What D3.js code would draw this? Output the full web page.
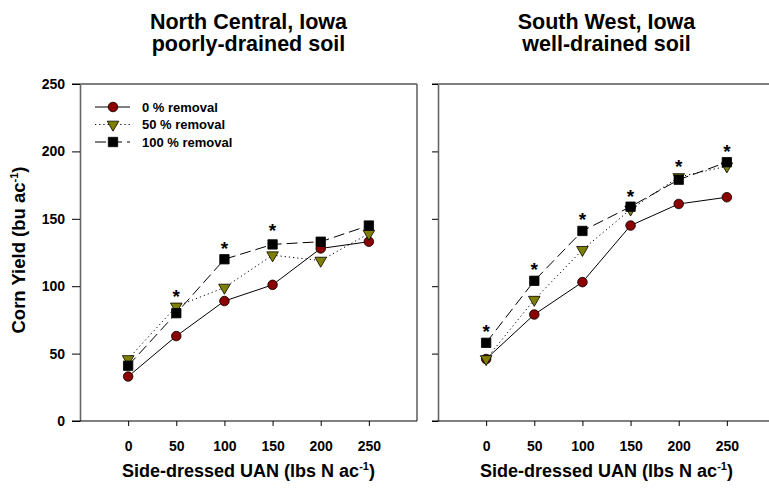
<!DOCTYPE html>
<html>
<head>
<meta charset="utf-8">
<script src="https://cdn.jsdelivr.net/npm/d3@7"></script>
<style>
  body { margin: 0; background: #fff; }
  svg { display: block; font-family: "Liberation Sans", Arial, sans-serif; font-weight: bold; }
</style>
</head>
<body>
<div id="chart"></div>
<script>
// UAN side-dress rates (lbs N / ac)
const nRates = [0, 50, 100, 150, 200, 250];
const seriesNames = ["0 % removal", "50 % removal", "100 % removal"];
const yTicks = [0, 50, 100, 150, 200, 250];

// North Central, Iowa - poorly-drained soil
const ncYield0 = [33, 63, 89, 101, 128, 133];
const ncYield50 = [46, 85, 99, 123, 119, 139];
const ncYield100 = [41, 80, 120, 131, 133, 145];
const ncStarRates = [50, 100, 150];
const ncStarLevels = [96, 131, 145];

// South West, Iowa - well-drained soil
const swYield0 = [46, 79, 103, 145, 161, 166];
const swYield50 = [46, 90, 127, 157, 181, 189];
const swYield100 = [58, 104, 141, 159, 179, 192];
const swStarRates = [0, 50, 100, 150, 200, 250];
const swStarLevels = [70, 116, 153, 170, 192, 203];

const W = 769, H = 491;
const svg = d3.select("#chart").append("svg")
    .attr("width", W)
    .attr("height", H);

const y = d3.scaleLinear().domain([0, 250]).range([421, 84]);

// one style per series
const styles = [
    {dash: null, symbol: d3.symbolCircle, size: 72, fill: "#8b0000", rot: 0},
    {dash: "1.2 3", symbol: d3.symbolTriangle, size: 58, fill: "#808000", rot: 180},
    {dash: "11 5", symbol: d3.symbolSquare, size: 88, fill: "#000", rot: 0}
];

const panels = [
    {
        left: 80, right: 417,
        title: ["North Central, Iowa", "poorly-drained soil"],
        series: [ncYield0, ncYield50, ncYield100],
        starRates: ncStarRates, starLevels: ncStarLevels,
        tickLabels: true, tickLen: 8, legend: true
    },
    {
        left: 438, right: 775,
        title: ["South West, Iowa", "well-drained soil"],
        series: [swYield0, swYield50, swYield100],
        starRates: swStarRates, starLevels: swStarLevels,
        tickLabels: false, tickLen: 6, legend: false
    }
];

panels.forEach(p => {
    const x = d3.scaleLinear().domain([-50, 300]).range([p.left, p.right]);
    const g = svg.append("g");
    const cx = (p.left + p.right) / 2;

    // title
    p.title.forEach((t, i) => {
        g.append("text")
            .attr("x", cx)
            .attr("y", 29 + i * 22)
            .attr("text-anchor", "middle")
            .style("font-size", "21.5px")
            .text(t);
    });

    // frame: top line
    g.append("line")
        .attr("x1", p.left - p.tickLen).attr("x2", p.right)
        .attr("y1", y(250)).attr("y2", y(250))
        .attr("stroke", "#000");

    // left axis
    const yAxis = g.append("g")
        .attr("transform", `translate(${p.left},0)`)
        .call(d3.axisLeft(y).tickValues(yTicks)
            .tickSize(p.tickLen).tickSizeOuter(0)
            .tickFormat(p.tickLabels ? d3.format("d") : ""));
    yAxis.select(".domain").attr("stroke", "#666").attr("stroke-width", 1.6);
    yAxis.selectAll(".tick line").attr("stroke", "#000");
    yAxis.selectAll(".tick text")
        .attr("x", -15)
        .style("font-size", "14px")
        .style("font-family", "'Liberation Sans', Arial, sans-serif")
        .style("font-weight", "bold")
        .attr("fill", "#000");

    // right edge
    g.append("line")
        .attr("x1", p.right).attr("x2", p.right)
        .attr("y1", y(250)).attr("y2", y(0))
        .attr("stroke", "#666").attr("stroke-width", 1.6);

    // bottom axis
    const xAxis = g.append("g")
        .attr("transform", `translate(0,${y(0)})`)
        .call(d3.axisBottom(x).tickValues(nRates).tickSize(5).tickSizeOuter(0));
    xAxis.select(".domain").remove();
    xAxis.append("line")
        .attr("x1", p.left - p.tickLen).attr("x2", p.right)
        .attr("stroke", "#000");
    xAxis.selectAll(".tick text")
        .attr("y", 20)
        .style("font-size", "14px")
        .style("font-family", "'Liberation Sans', Arial, sans-serif")
        .style("font-weight", "bold")
        .attr("fill", "#000");

    // x label
    const xl = g.append("text")
        .attr("x", cx)
        .attr("y", 477)
        .attr("text-anchor", "middle")
        .style("font-size", "18px")
        .text("Side-dressed UAN (lbs N ac");
    xl.append("tspan").attr("dy", -7).style("font-size", "11px").text("-1");
    xl.append("tspan").attr("dy", 7).text(")");

    // series lines then markers, in order
    p.series.forEach((vals, si) => {
        const s = styles[si];
        const pts = nRates.map((r, i) => [r, vals[i]]);
        g.append("path")
            .datum(pts)
            .attr("fill", "none")
            .attr("stroke", "#000")
            .attr("stroke-width", 1)
            .attr("stroke-dasharray", s.dash)
            .attr("d", d3.line().x(d => x(d[0])).y(d => y(d[1])));
        g.selectAll(null)
            .data(pts)
            .join("path")
            .attr("transform", d => `translate(${x(d[0])},${y(d[1])}) rotate(${s.rot})`)
            .attr("d", d3.symbol(s.symbol, s.size))
            .attr("fill", s.fill)
            .attr("stroke", "#000")
            .attr("stroke-width", 0.8);
    });

    // significance asterisks
    g.selectAll(null)
        .data(p.starRates.map((r, i) => [r, p.starLevels[i]]))
        .join("text")
        .attr("x", d => x(d[0]))
        .attr("y", d => y(d[1]) + 11)
        .attr("text-anchor", "middle")
        .style("font-size", "19px")
        .text("*");

    // legend
    if (p.legend) {
        const lg = g.append("g");
        seriesNames.forEach((name, i) => {
            const s = styles[i];
            const ly = 107 + i * 17.5;
            lg.append("line")
                .attr("x1", 95).attr("x2", 130)
                .attr("y1", ly).attr("y2", ly)
                .attr("stroke", "#000")
                .attr("stroke-dasharray", s.dash);
            lg.append("path")
                .attr("transform", `translate(113,${ly}) rotate(${s.rot})`)
                .attr("d", d3.symbol(s.symbol, s.size))
                .attr("fill", s.fill)
                .attr("stroke", "#000")
                .attr("stroke-width", 0.8);
            lg.append("text")
                .attr("x", 142)
                .attr("y", ly + 4.5)
                .style("font-size", "13px")
                .text(name);
        });
    }
});

// y label, shared
const yl = svg.append("text")
    .attr("transform", "translate(25,250) rotate(-90)")
    .attr("text-anchor", "middle")
    .style("font-size", "18.5px")
    .text("Corn Yield (bu ac");
yl.append("tspan").attr("dy", -7).style("font-size", "11px").text("-1");
yl.append("tspan").attr("dy", 7).text(")");
</script>
</body>
</html>
